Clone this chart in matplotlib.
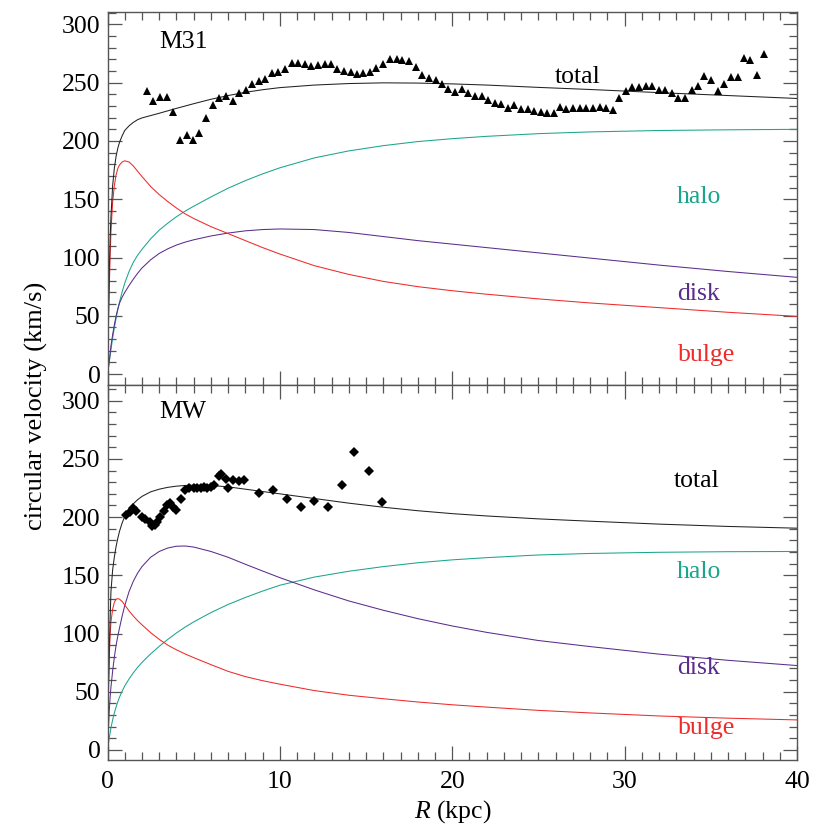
import matplotlib
matplotlib.use("Agg")
import matplotlib.pyplot as plt
from matplotlib.ticker import MultipleLocator

plt.rcParams['font.family'] = ['Liberation Serif', 'DejaVu Serif']
plt.rcParams['mathtext.fontset'] = 'custom'
plt.rcParams['mathtext.rm'] = 'Liberation Serif'
plt.rcParams['mathtext.it'] = 'Liberation Serif:italic'

# ---------------- model curves ----------------
R_model = [0, 0.05, 0.1, 0.15, 0.2, 0.3, 0.4, 0.5, 0.6, 0.7, 0.85, 1.0, 1.25, 1.5, 1.75,
           2, 2.5, 3, 3.5, 4, 4.5, 5, 6, 7, 8, 9, 10, 12, 14, 16, 18, 20, 22, 25,
           28, 32, 36, 40]

m31_total = [0, 45, 85, 115, 135, 162, 177, 187, 194, 199, 204.5, 209, 213, 216, 218.3,
             219.8, 221.8, 223.8, 225.9, 228, 230, 232, 235.8, 239, 241.8, 244, 245.8,
             248, 249.3, 249.9, 249.7, 249, 248, 246, 244.2, 241.5, 239, 236.5]
m31_bulge = [0, 38, 72, 100, 122, 148, 162, 171, 176.5, 179.5, 182, 183, 182, 178.5, 174,
             169.5, 161, 154, 148, 142.5, 137.5, 133.5, 126.5, 120.5, 114.5, 108.5, 103,
             93, 85.5, 79.5, 75, 71.5, 68.5, 64.5, 61, 57, 53, 49.5]
m31_halo = [0, 5, 10, 15.5, 21, 31, 40, 48, 55.5, 62, 70.5, 78, 88, 96, 102,
            107, 116, 123.5, 129.5, 135, 139.8, 144, 152, 159.5, 166, 171.8, 177,
            185.5, 191.5, 196, 199.5, 202, 204, 206.3, 207.8, 209, 209.6, 210]
m31_disk = [0, 5, 11, 17, 24, 34, 42.5, 50, 56, 61, 66, 70, 76, 81.5, 86.5,
            91, 98, 103.5, 107.5, 110.7, 113.2, 115.2, 118.5, 121, 122.9, 124, 124.5,
            124, 121.5, 118, 114.5, 111.5, 108.5, 104, 99.5, 93.5, 88, 83]

mw_total = [0, 50, 85, 112, 136, 155, 166, 175, 182, 188, 195, 200.5, 207, 211.5, 215,
            217.8, 221.7, 224, 225.6, 226.6, 227.2, 227.5, 227.2, 226, 224, 222, 220,
            216, 212, 208.5, 205.5, 203, 201, 198.5, 196.5, 194, 192, 190.5]
mw_bulge = [0, 45, 78, 98, 110, 121, 127, 129.5, 130, 129.5, 127.5, 124.5, 119.5, 115, 111,
            107.5, 100.8, 95, 90, 86, 82.5, 79.3, 73.3, 67.5, 63, 59.5, 56.5,
            51, 47, 44, 41.2, 38.8, 36.8, 34, 31.8, 29.2, 27.3, 25.8]
mw_halo = [0, 5, 10, 14.5, 19, 26, 32, 37, 41.5, 45.5, 50.5, 55, 61, 66.3, 71,
           75.2, 82.5, 89, 95, 100.5, 105.5, 110, 118, 125, 131, 136.5, 141.5,
           148.5, 153.5, 157.5, 160.8, 163.3, 165.2, 167.5, 168.8, 169.8, 170.3, 170.5]
mw_disk = [0, 17, 33, 45, 54, 68, 80, 90, 98, 105, 115, 124, 136, 145, 152,
           157.5, 165.5, 170.5, 173.5, 175, 175.2, 174.3, 170.5, 165.5, 159.5, 153.7, 148,
           137.5, 128, 120, 112.8, 106.5, 101, 94, 88.8, 82.3, 77, 72.5]

# ---------------- observed rotation curves ----------------
m31_R = [2.27, 2.66, 3.04, 3.43, 3.81, 4.20, 4.59, 4.97, 5.32, 5.71, 6.10, 6.48, 6.87,
         7.26, 7.64, 8.01, 8.40, 8.78, 9.13, 9.52, 9.90, 10.29, 10.68, 11.06, 11.43,
         11.81, 12.20, 12.59, 12.94, 13.32, 13.71, 14.10, 14.45, 14.83, 15.22, 15.60,
         15.99, 16.38, 16.77, 17.11, 17.50, 17.88, 18.27, 18.66, 19.04, 19.39, 19.78,
         20.16, 20.55, 20.94, 21.32, 21.71, 22.10, 22.48, 22.83, 23.22, 23.61, 23.99,
         24.38, 24.77, 25.15, 25.50, 25.88, 26.23, 26.62, 27.00, 27.39, 27.78, 28.16,
         28.55, 28.94, 29.32, 29.67, 30.06, 30.45, 30.83, 31.22, 31.60, 31.99, 32.34,
         32.72, 33.11, 33.50, 33.88, 34.27, 34.62, 35.00, 35.39, 35.78, 36.17, 36.55,
         36.94, 37.29, 37.67, 38.06]
m31_v = [243, 234, 238, 238, 225, 201, 205, 201, 207, 220, 231, 236.5, 239,
         234.5, 241, 244, 248.5, 251.5, 253, 258.5, 259, 262, 267, 267, 266,
         264.5, 265, 266, 266, 261.5, 260, 259, 257.5, 258, 259, 262.5,
         266, 270.5, 270, 269.5, 268.5, 263.5, 257, 254, 252, 249, 245,
         242, 245, 241.5, 238.5, 238.5, 235, 233, 232, 228.5, 231, 227.5,
         227.5, 226, 225, 224, 224, 229, 227.5, 228.5, 228.5, 228.5, 228.5,
         229.5, 228.5, 227, 237, 243, 246.5, 246.5, 247.5, 247.5, 243.5, 243.5,
         241, 236.5, 236.5, 244, 247, 256, 252.5, 243, 248.5, 255, 254.5,
         271, 269.5, 257, 275]

mw_R = [1.07, 1.30, 1.46, 1.65, 1.98, 2.20, 2.45, 2.60, 2.75, 2.90, 3.05, 3.25, 3.45,
        3.60, 3.80, 4.00, 4.25, 4.50, 4.75, 5.00, 5.20, 5.40, 5.60, 5.80, 6.00, 6.20,
        6.45, 6.60, 6.85, 7.00, 7.30, 7.60, 7.90, 8.80, 9.60, 10.40, 11.20, 12.00,
        12.80, 13.60, 14.30, 15.15, 15.90]
mw_v = [202, 204, 208, 205, 200, 198, 196, 192, 193, 196, 200, 205, 210,
        212, 209, 206, 216, 223, 225, 225, 225, 225, 226, 225, 226, 228,
        235, 237, 233, 225, 232, 231, 232, 221, 223, 216, 209, 214,
        209, 228, 256, 240, 213]

# ---------------- styles ----------------
c_total = '#222222'
c_halo = '#1aa58c'
c_disk = '#5a2d8c'
c_bulge = '#ee2a2a'
spine_c = '#555555'
fs = 18.5

fig = plt.figure(figsize=(8.3, 8.3), dpi=100)
left, right = 107.5 / 830, 797 / 830
ax1 = fig.add_axes([left, 1 - 385 / 830, right - left, (385 - 12) / 830])
ax2 = fig.add_axes([left, 1 - 759.5 / 830, right - left, (759.5 - 385) / 830])

panels = [
    (ax1, 'M31', m31_total, m31_halo, m31_disk, m31_bulge, m31_R, m31_v, '^', 5.6,
     (-9.4, 310.7), [(27.3, 255), (34.3, 152), (34.3, 68.7), (34.75, 16.3)], 285),
    (ax2, 'MW', mw_total, mw_halo, mw_disk, mw_bulge, mw_R, mw_v, 'D', 5.0,
     (-8.2, 313.5), [(34.2, 231), (34.3, 153), (34.3, 70.4), (34.75, 18.9)], 290),
]

for (ax, name, tot, halo, disk, bulge, Rd, vd, mk, ms, ylim, lpos, ny) in panels:
    lw = 0.75
    ax.plot(R_model, halo, color=c_halo, lw=lw)
    ax.plot(R_model, disk, color=c_disk, lw=lw)
    ax.plot(R_model, bulge, color=c_bulge, lw=lw)
    ax.plot(R_model, tot, color=c_total, lw=lw)
    ax.plot(Rd, vd, linestyle='none', marker=mk, color='black', markersize=ms,
            markeredgewidth=0)
    ax.set_xlim(0, 40)
    ax.set_ylim(*ylim)
    ax.xaxis.set_major_locator(MultipleLocator(10))
    ax.xaxis.set_minor_locator(MultipleLocator(1))
    ax.yaxis.set_major_locator(MultipleLocator(50))
    ax.yaxis.set_minor_locator(MultipleLocator(10))
    ax.tick_params(which='both', direction='in', top=True, right=True,
                   color=spine_c, labelsize=fs, width=0.9)
    ax.tick_params(which='major', length=10)
    ax.tick_params(which='minor', length=5.5)
    ax.tick_params(axis='y', pad=5)
    ax.tick_params(axis='x', pad=8)
    for s in ax.spines.values():
        s.set_color(spine_c)
        s.set_linewidth(1.0)
    ax.text(3.0, ny, name, fontsize=fs, ha='left', va='center', color='black')
    for (lab, col), (lx, ly) in zip([('total', 'black'), ('halo', c_halo),
                                     ('disk', c_disk), ('bulge', c_bulge)], lpos):
        ax.text(lx, ly, lab, fontsize=fs, ha='center', va='center', color=col)

ax1.tick_params(axis='x', labelbottom=False)
ax2.set_xlabel('$\\mathit{R}$ (kpc)', fontsize=fs, labelpad=4)
fig.text(36 / 830, 1 - 406 / 830, 'circular velocity (km/s)', rotation=90,
         ha='center', va='center', fontsize=19)

fig.savefig('out.png', dpi=100)
